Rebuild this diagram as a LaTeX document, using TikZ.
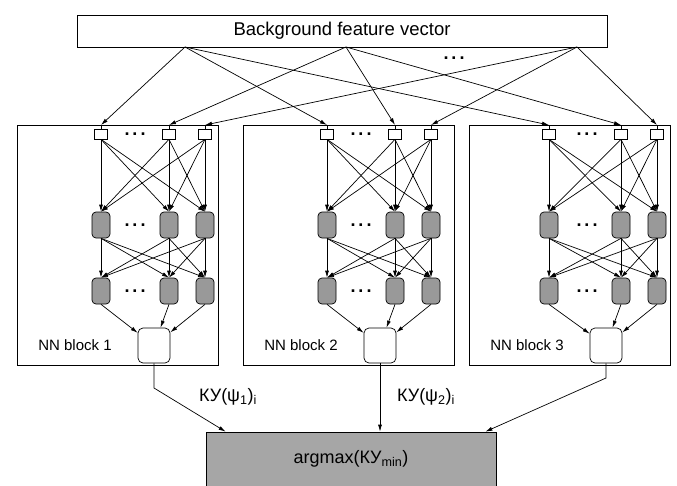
\documentclass[tikz,border=0pt]{standalone}
\usepackage{fontspec}
\setmainfont{Liberation Sans}
\usetikzlibrary{arrows.meta,calc}

\tikzset{
  inbox/.style={draw, fill=white, minimum width=13pt, minimum height=10pt, inner sep=0pt},
  hidbox/.style={draw, fill=black!40, rounded corners=4pt, minimum width=18pt, minimum height=26pt, inner sep=0pt},
  outbox/.style={draw, fill=white, rounded corners=5pt, minimum width=32pt, minimum height=35pt, inner sep=0pt},
  nnblock/.style={draw, anchor=north west, minimum height=240pt, inner sep=0pt},
  arr/.style={-{Latex[length=7pt,width=4pt]}},
  dotsnode/.style={font=\fontsize{18}{18}\selectfont\bfseries, inner sep=0pt},
  lbl/.style={font=\fontsize{18}{18}\selectfont, inner sep=0pt}
}

\begin{document}
\begin{tikzpicture}[x=1pt,y=-1pt, line width=0.7pt]
  \useasboundingbox (0,0) rectangle (677,485);

  % feature vector on top
  \node[draw, minimum width=530pt, minimum height=32pt, font=\fontsize{18.5}{18.5}\selectfont] (fv) at (342,31) {Background feature vector};
  \coordinate (o1) at (185,47);
  \coordinate (o2) at (346,47);
  \coordinate (o3) at (577,47);
  \node[dotsnode] (tdots) at (454,58) {.\,.\,.};

  % the three NN blocks
  \foreach \b/\L/\W/\s in {1/17/201/84, 2/243/211/84, 3/469/201/80} {
    \node[nnblock, minimum width=\W pt] (blk\b) at (\L,125) {};
    \foreach \i/\dx in {1/\s, 2/152, 3/188} {
      \node[inbox] (in\b\i) at (\L+\dx,134) {};
      \node[hidbox] (ha\b\i) at (\L+\dx,225) {};
      \node[hidbox] (hb\b\i) at (\L+\dx,291) {};
    }
    \node[dotsnode] at (\L+118,134) {.\,.\,.};
    \node[dotsnode] at (\L+118,225) {.\,.\,.};
    \node[dotsnode] at (\L+118,291) {.\,.\,.};
    \node[outbox] (out\b) at (\L+137,345.5) {};
    \node[font=\fontsize{15}{15}\selectfont] (nn\b) at (\L+58,345) {NN block \b};
    \foreach \i in {1,2,3} {
      \foreach \j in {1,2,3} {
        \draw[arr] (in\b\i.south) -- (ha\b\j.north);
        \draw[arr] (ha\b\i.south) -- (hb\b\j.north);
      }
      \draw[arr] (hb\b\i.south) -- (out\b);
      \draw[arr] (o\i) -- (in\b\i.north |- blk\b.north);
      \draw (blk\b.north -| in\b\i.north) -- (in\b\i.north);
    }
  }

  % decision
  \node[draw, fill=black!35, minimum width=290pt, minimum height=54pt, font=\fontsize{18}{18}\selectfont] (am) at (351,459) {argmax(КУ\textsubscript{min})};
  \coordinate (k1) at (154,388);
  \coordinate (k3) at (606,378);
  \draw[arr] (out1.south) -- (k1) -- ([xshift=20pt]am.north west);
  \draw[arr] (out2.south) -- (out2.south |- am.north);
  \draw[arr] (out3.south) -- (k3) -- ([xshift=-11pt]am.north east);
  \node[lbl] (ky1) at (228,397) {КУ(ψ\textsubscript{1})\textsubscript{i}};
  \node[lbl] (ky2) at (426,397) {КУ(ψ\textsubscript{2})\textsubscript{i}};
\end{tikzpicture}
\end{document}
